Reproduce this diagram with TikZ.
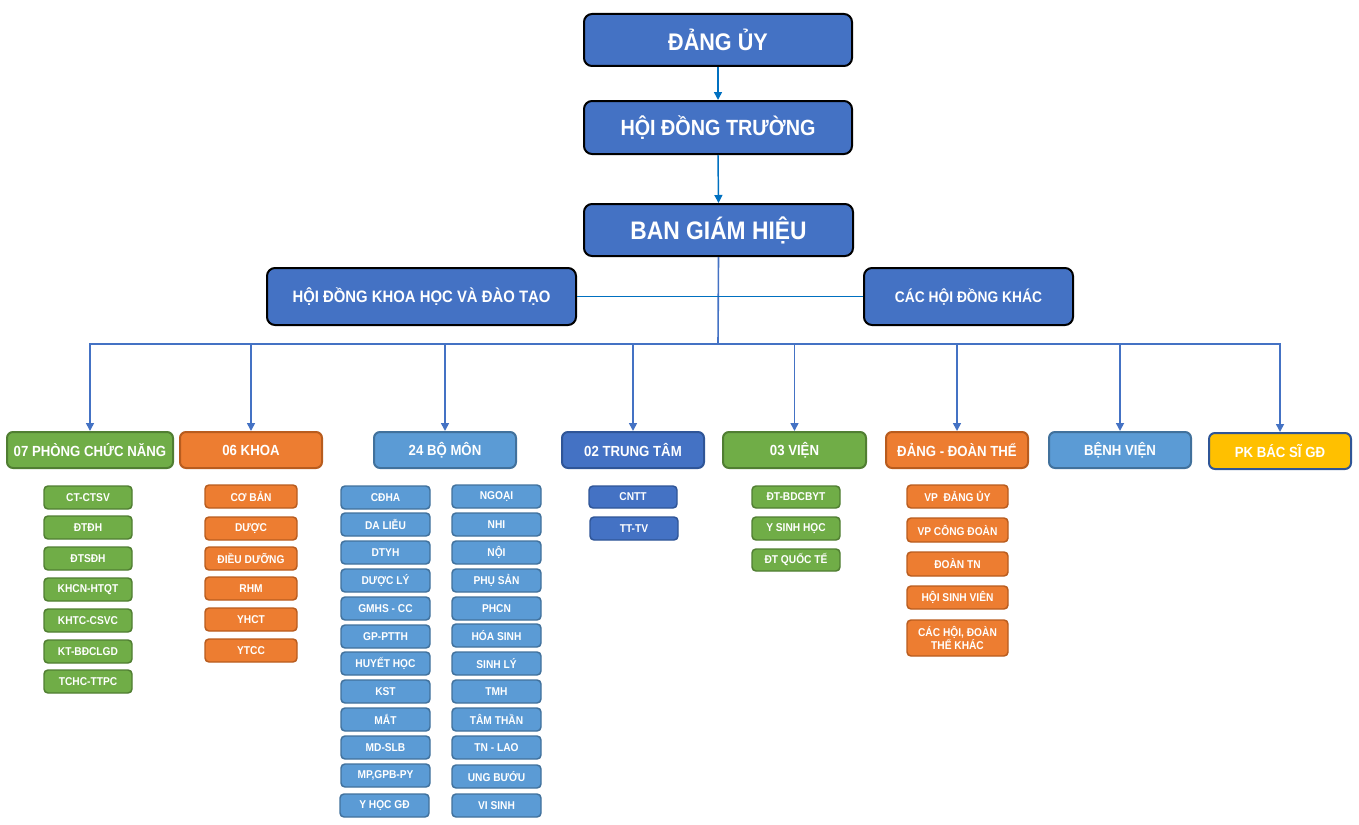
\documentclass[tikz,border=0pt]{standalone}
\usepackage{fontspec}
\setmainfont{Liberation Sans}[FakeStretch=0.9]
\usetikzlibrary{arrows.meta}
\definecolor{cBlue}{HTML}{4472C4}
\definecolor{cBlueD}{HTML}{2F5597}
\definecolor{cLB}{HTML}{5B9BD5}
\definecolor{cLBD}{HTML}{41719C}
\definecolor{cG}{HTML}{70AD47}
\definecolor{cGD}{HTML}{507E32}
\definecolor{cO}{HTML}{ED7D31}
\definecolor{cOD}{HTML}{B85C1E}
\definecolor{cY}{HTML}{FFC000}
\definecolor{cLine}{HTML}{0070C0}
\newcommand\pbox[7]{\node[#1, minimum width={(#4-#2)*0.75pt}, minimum height={(#5-#3)*0.75pt}] (#6) at ({(#2+#4)/2},{(#3+#5)/2}) {#7};}
\tikzset{
  topbox/.style={draw=black, line width=1.5pt, fill=cBlue, rounded corners=6pt, inner sep=0pt, text=white, font=\bfseries},
  lvl/.style={line width=1.5pt, rounded corners=4.5pt, inner sep=0pt, text=white, font=\bfseries\fontsize{11}{13}\selectfont},
  subbox/.style={line width=1.1pt, rounded corners=3pt, inner sep=0pt, text=white, font=\bfseries\fontsize{8.5}{9.5}\selectfont, align=center},
  gr/.style={fill=cG, draw=cGD},
  og/.style={fill=cO, draw=cOD},
  lb/.style={fill=cLB, draw=cLBD},
  bl/.style={fill=cBlue, draw=cBlueD},
  yl/.style={fill=cY, draw=cBlueD},
  toparrow/.style={draw=cLine, line width=1.1pt, -{Triangle[length=6pt,width=6pt]}},
  hline/.style={draw=cLine, line width=1.1pt},
  busline/.style={draw=cBlue, line width=1.2pt},
  busarrow/.style={draw=cBlue, line width=1.2pt, -{Triangle[length=6pt,width=6pt]}},
}
\begin{document}
\begin{tikzpicture}[x=0.75pt,y=-0.75pt]
\useasboundingbox (0,0) rectangle (1359,824);
% top
\pbox{topbox, font=\bfseries\fontsize{18}{20}\selectfont}{584}{14}{852}{66}{dangy}{ĐẢNG ỦY}
\pbox{topbox, font=\bfseries\fontsize{16.5}{18}\selectfont}{584}{101}{852}{154}{hdt}{HỘI ĐỒNG TRƯỜNG}
\pbox{topbox, font=\bfseries\fontsize{19}{21}\selectfont}{584}{204}{853}{256}{bgh}{BAN GIÁM HIỆU}
\pbox{topbox, font=\bfseries\fontsize{12.4}{14}\selectfont}{267}{268}{576}{325}{hdkh}{HỘI ĐỒNG KHOA HỌC VÀ ĐÀO TẠO}
\pbox{topbox, font=\bfseries\fontsize{11.5}{13}\selectfont}{864}{268}{1073}{325}{chdk}{CÁC HỘI ĐỒNG KHÁC}
% level 3
\pbox{lvl,gr}{7}{432}{173}{468}{k1}{07 PHÒNG CHỨC NĂNG}
\pbox{lvl,og}{180}{432}{322}{468}{k2}{06 KHOA}
\pbox{lvl,lb}{374}{432}{516}{468}{k3}{24 BỘ MÔN}
\pbox{lvl,bl}{562}{432}{704}{468}{k4}{02 TRUNG TÂM}
\pbox{lvl,gr}{723}{432}{866}{468}{k5}{03 VIỆN}
\pbox{lvl,og}{886}{432}{1028}{468}{k6}{ĐẢNG - ĐOÀN THỂ}
\pbox{lvl,lb}{1049}{432}{1191}{468}{k7}{BỆNH VIỆN}
\pbox{lvl,yl}{1209}{433}{1351}{469}{k8}{PK BÁC SĨ GĐ}
% connectors
\draw[toparrow] (dangy.south) -- (hdt.north);
\draw[toparrow] (hdt.south) -- (bgh.north);
\coordinate (bus) at (718,344);
\draw[busline] (bgh.south) -- (bus);
\draw[hline] (hdkh.east) -- (chdk.west);
\foreach \k in {k1,k2,k3,k4,k5,k6,k7,k8} \draw[busarrow] (bus) -| (\k.north);
% phong chuc nang
\foreach \t/\lab [count=\i] in {486/CT-CTSV,516/ĐTĐH,547/ĐTSĐH,578/KHCN-HTQT,609/KHTC-CSVC,640/KT-BĐCLGD,670/TCHC-TTPC}
  {\pbox{subbox,gr}{44}{\t}{132}{\t+23}{pc\i}{\lab}}
% khoa
\foreach \t/\lab [count=\i] in {485/CƠ BẢN,517/DƯỢC,547/ĐIỀU DƯỠNG,577/RHM,608/YHCT,639/YTCC}
  {\pbox{subbox,og}{205}{\t}{297}{\t+23}{kh\i}{\lab}}
% bo mon
\foreach \t/\lab [count=\i] in {486/CĐHA,513/DA LIỄU,541/DTYH,569/DƯỢC LÝ,597/GMHS - CC,625/GP-PTTH,652/HUYẾT HỌC,680/KST,708/MẮT,736/MD-SLB,764/{MP,GPB-PY}}
  {\pbox{subbox,lb}{341}{\t}{430}{\t+23}{bma\i}{\lab}}
\pbox{subbox,lb}{340}{794}{429}{817}{bma12}{Y HỌC GĐ}
\foreach \t/\lab [count=\i] in {485/NGOẠI,513/NHI,541/NỘI,569/PHỤ SẢN,597/PHCN,624/HÓA SINH,652/SINH LÝ,680/TMH,708/TÂM THẦN,736/TN - LAO,765/UNG BƯỚU,794/VI SINH}
  {\pbox{subbox,lb}{452}{\t}{541}{\t+23}{bmb\i}{\lab}}
% trung tam
\pbox{subbox,bl}{589}{486}{677}{508}{tt1}{CNTT}
\pbox{subbox,bl}{590}{517}{678}{540}{tt2}{TT-TV}
% vien
\pbox{subbox,gr}{752}{486}{840}{508}{v1}{ĐT-BDCBYT}
\pbox{subbox,gr}{752}{517}{840}{540}{v2}{Y SINH HỌC}
\pbox{subbox,gr}{752}{549}{840}{571}{v3}{ĐT QUỐC TẾ}
% dang doan the
\pbox{subbox,og}{907}{485}{1008}{508}{d1}{VP\ \ ĐẢNG ỦY}
\pbox{subbox,og}{907}{518}{1008}{542}{d2}{VP CÔNG ĐOÀN}
\pbox{subbox,og}{907}{552}{1008}{576}{d3}{ĐOÀN TN}
\pbox{subbox,og}{907}{586}{1008}{609}{d4}{HỘI SINH VIÊN}
\pbox{subbox,og}{907}{620}{1008}{656}{d5}{CÁC HỘI, ĐOÀN\\THỂ KHÁC}
\end{tikzpicture}
\end{document}
